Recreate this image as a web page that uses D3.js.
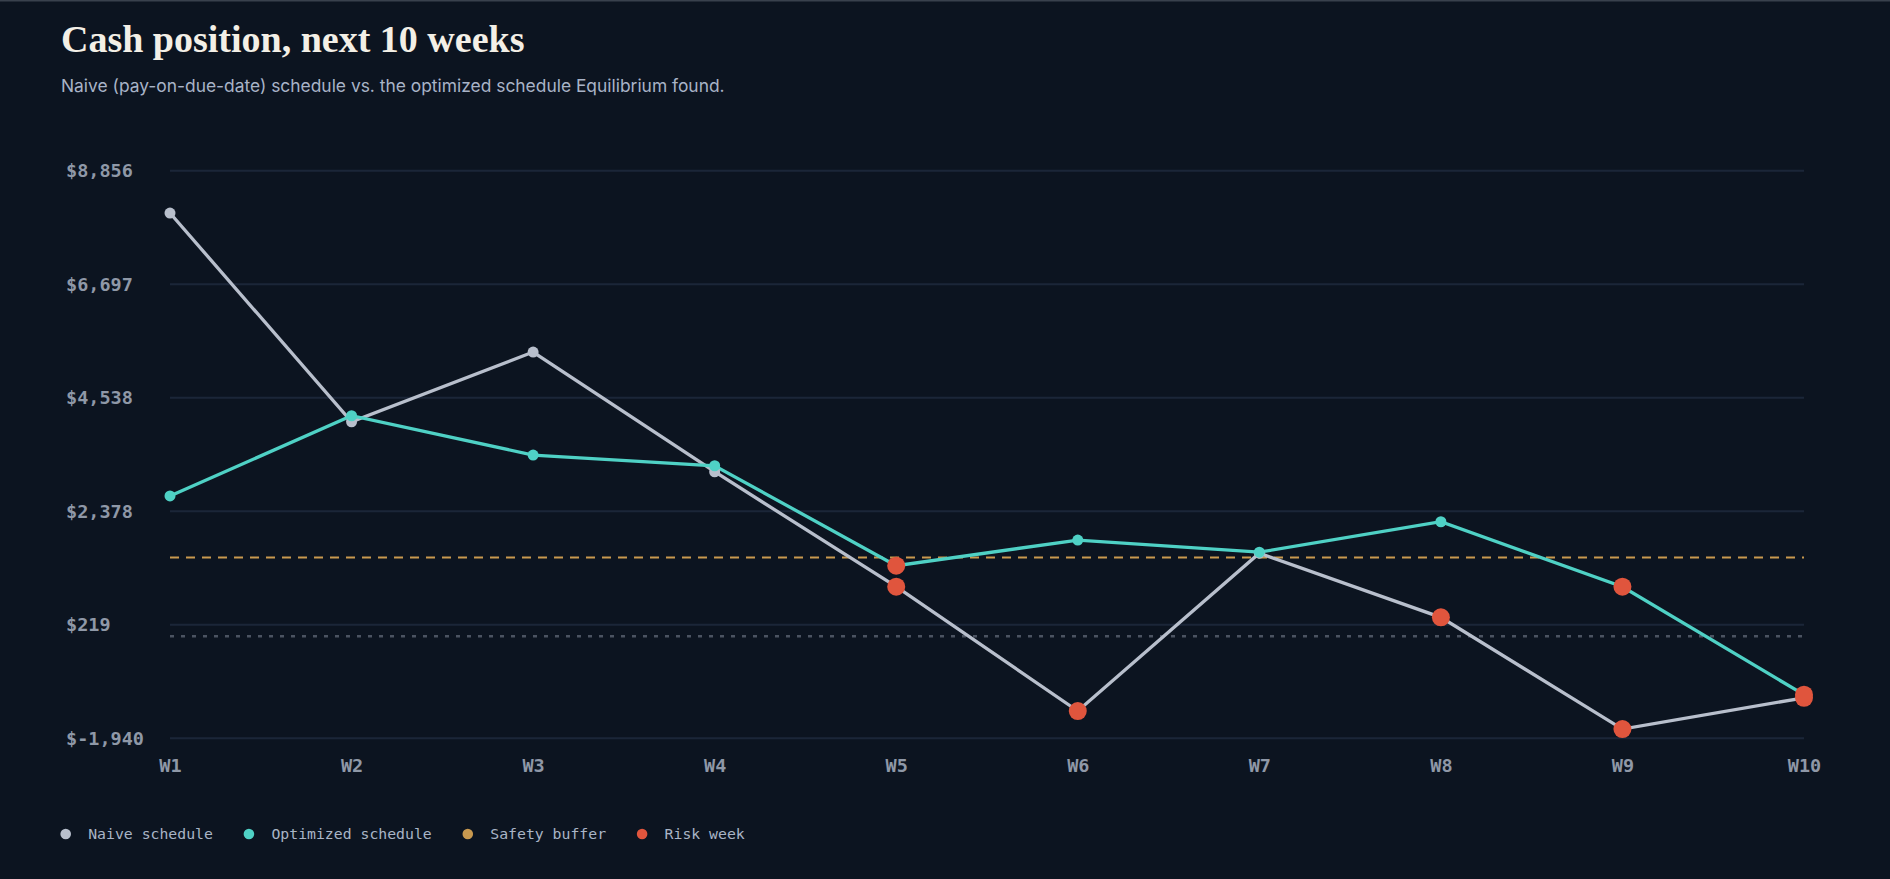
<!DOCTYPE html>
<html>
<head>
<meta charset="utf-8">
<script src="https://cdn.jsdelivr.net/npm/d3@7/dist/d3.min.js"></script>
<style>
  html, body { margin: 0; padding: 0; background: #0c1420; }
  svg { display: block; }
</style>
</head>
<body>
<svg id="chart" width="1890" height="879"></svg>
<script>
// ---- data ----
const weeks = ["W1","W2","W3","W4","W5","W6","W7","W8","W9","W10"];
const naive = [8051, 4081, 5407, 3130, 943, -1421, 1580, 361, -1764, -1170];
const optimized = [2670, 4195, 3448, 3244, 1343, 1831, 1600, 2179, 943, -1110];
const yTicks = [-1940, 219, 2378, 4538, 6697, 8856];
const safetyBuffer = 1500;
const zeroLine = 0;
const legendLabels = ["Naive schedule", "Optimized schedule", "Safety buffer", "Risk week"];

const colors = {
  bg: "#0c1420", grid: "#1b2638", naive: "#b8bfcc", opt: "#4fd1c5",
  buffer: "#c9994f", risk: "#e0553d", zero: "#4b5361", axis: "#8f98a7",
  title: "#f3efe6", sub: "#a8b3c7", legend: "#a9b4c6"
};

const svg = d3.select("#chart");
svg.append("rect").attr("width", 1890).attr("height", 879).attr("fill", colors.bg);
svg.append("rect").attr("width", 1890).attr("height", 1.5).attr("fill", "#39414d");

svg.append("text").attr("x", 61).attr("y", 51.7)
  .attr("font-family", "Liberation Serif, serif").attr("font-weight", 700)
  .attr("font-size", 38).attr("fill", colors.title)
  .text("Cash position, next 10 weeks");
svg.append("text").attr("x", 61).attr("y", 92)
  .attr("font-family", "Inter, sans-serif").attr("font-size", 17.4)
  .attr("fill", colors.sub)
  .text("Naive (pay-on-due-date) schedule vs. the optimized schedule Equilibrium found.");

const x = d3.scalePoint().domain(weeks).range([170, 1804]);
const y = d3.scaleLinear().domain([yTicks[0], yTicks[yTicks.length - 1]]).range([738.3, 170.7]);

const mono = "DejaVu Sans Mono, monospace";

// grid
svg.append("g").selectAll("line").data(yTicks).join("line")
  .attr("x1", x.range()[0]).attr("x2", x.range()[1])
  .attr("y1", d => y(d)).attr("y2", d => y(d))
  .attr("stroke", colors.grid).attr("stroke-width", 2);

// y labels
svg.append("g").selectAll("text").data(yTicks).join("text")
  .attr("x", 66).attr("y", d => y(d)).attr("dy", "0.36em")
  .attr("font-family", mono).attr("font-size", 18.5).attr("font-weight", 700)
  .attr("fill", colors.axis)
  .text(d => "$" + d3.format(",")(d).replace("\u2212", "-"));

// x labels
const xAxis = d3.axisBottom(x).tickSize(0).tickPadding(0);
const gx = svg.append("g").attr("transform", "translate(0,759)").call(xAxis);
gx.select(".domain").remove();
gx.selectAll("text").attr("font-family", mono).attr("font-size", 18.5)
  .attr("font-weight", 700).attr("fill", colors.axis).attr("dy", "0.72em");

// zero & buffer
svg.append("line").attr("x1", x.range()[0]).attr("x2", x.range()[1])
  .attr("y1", y(zeroLine)).attr("y2", y(zeroLine))
  .attr("stroke", colors.zero).attr("stroke-width", 2.5).attr("stroke-dasharray", "4,7");
svg.append("line").attr("x1", x.range()[0]).attr("x2", x.range()[1])
  .attr("y1", y(safetyBuffer)).attr("y2", y(safetyBuffer))
  .attr("stroke", colors.buffer).attr("stroke-width", 2).attr("stroke-dasharray", "9,7");

const line = d3.line().x((d, i) => x(weeks[i])).y(d => y(d));
svg.append("path").datum(naive).attr("d", line).attr("fill", "none")
  .attr("stroke", colors.naive).attr("stroke-width", 3.3);
svg.append("path").datum(optimized).attr("d", line).attr("fill", "none")
  .attr("stroke", colors.opt).attr("stroke-width", 3.3);

svg.append("g").selectAll("circle").data(naive).join("circle")
  .attr("cx", (d, i) => x(weeks[i])).attr("cy", d => y(d)).attr("r", 5.5)
  .attr("fill", colors.naive);
svg.append("g").selectAll("circle").data(optimized).join("circle")
  .attr("cx", (d, i) => x(weeks[i])).attr("cy", d => y(d)).attr("r", 5.5)
  .attr("fill", colors.opt);

const risks = [];
naive.forEach((v, i) => { if (v < safetyBuffer) risks.push({ w: weeks[i], v }); });
optimized.forEach((v, i) => { if (v < safetyBuffer) risks.push({ w: weeks[i], v }); });
svg.append("g").selectAll("circle").data(risks).join("circle")
  .attr("cx", d => x(d.w)).attr("cy", d => y(d.v)).attr("r", 9)
  .attr("fill", colors.risk);

// legend
const legendColors = [colors.naive, colors.opt, colors.buffer, colors.risk];
let cx = 65.7;
const lg = svg.append("g");
legendLabels.forEach((lab, i) => {
  lg.append("circle").attr("cx", cx).attr("cy", 834).attr("r", 5.3).attr("fill", legendColors[i]);
  const t = lg.append("text").attr("x", cx + 22.5).attr("y", 834).attr("dy", "0.35em")
    .attr("font-family", mono).attr("font-size", 14.8).attr("fill", colors.legend).text(lab);
  cx = cx + 22.5 + t.node().getComputedTextLength() + 36;
});
</script>
</body>
</html>
